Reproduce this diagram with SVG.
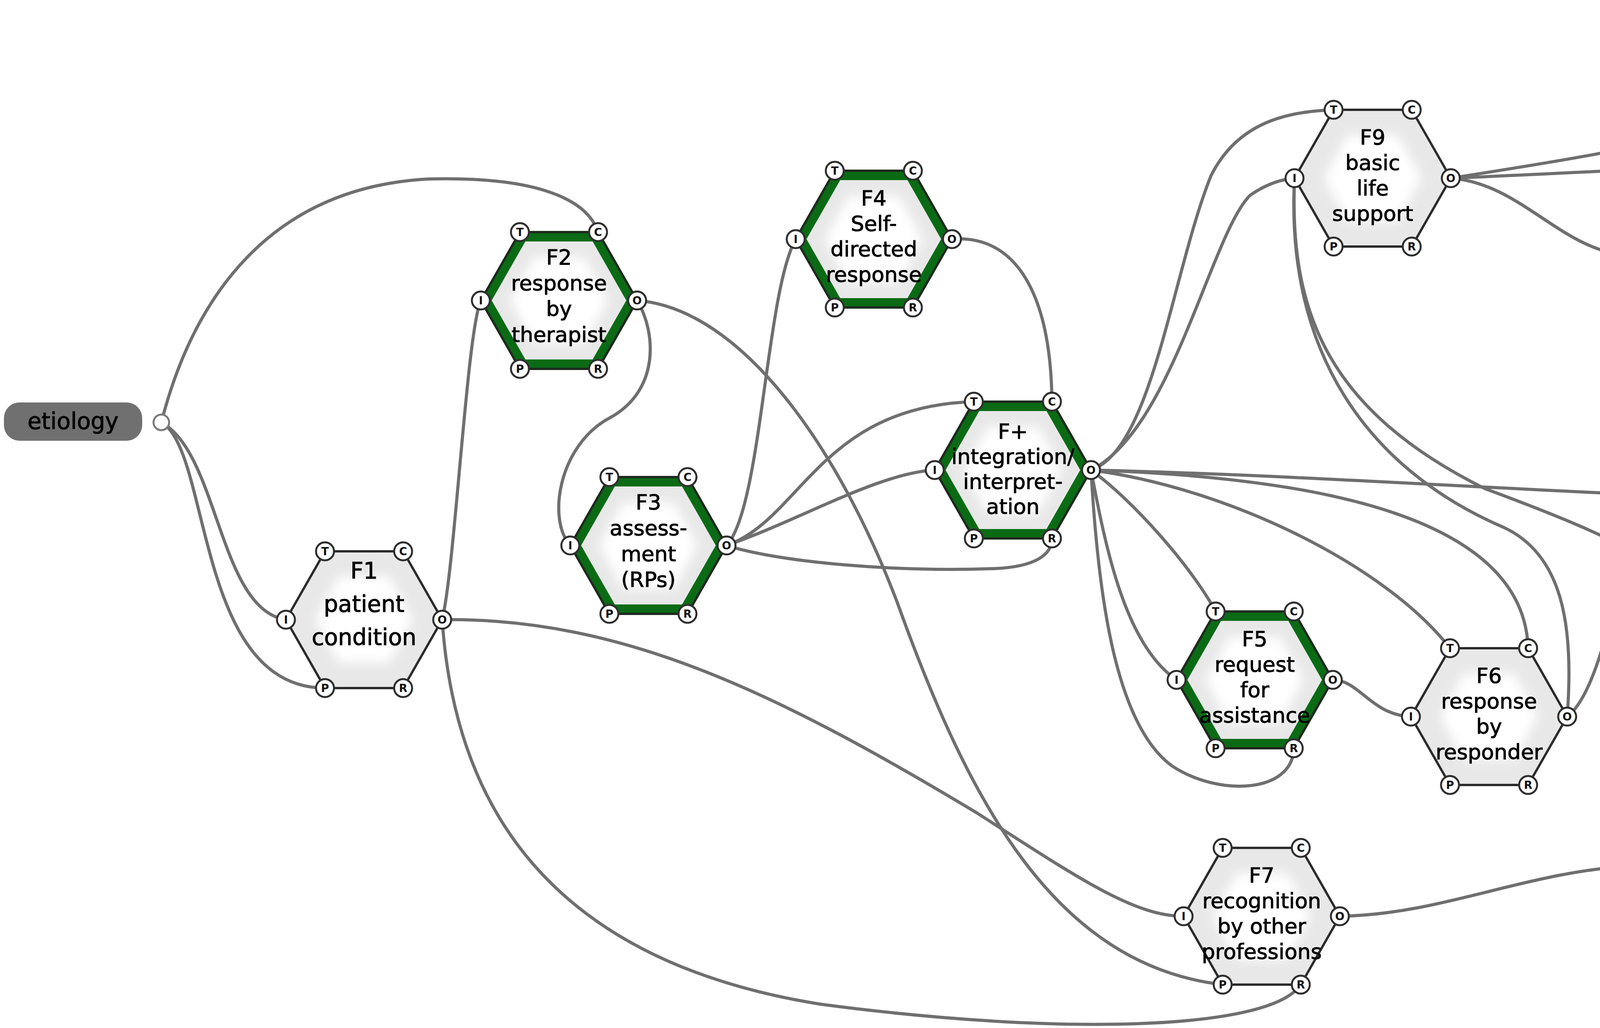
<svg xmlns="http://www.w3.org/2000/svg" xmlns:xlink="http://www.w3.org/1999/xlink" width="5540" height="2631" viewBox="0 0 5540 2631">
<style>
.con{fill:none;stroke:#6f6f6f;stroke-width:8;stroke-linecap:round}
.lbl{font-family:"DejaVu Sans","Liberation Sans",sans-serif;font-size:54px;fill:#000;stroke:#000;stroke-width:1.2;text-anchor:middle}
.big{font-size:58px}
.out{font-family:"DejaVu Sans","Liberation Sans",sans-serif;font-size:58px;fill:#000;stroke:#000;stroke-width:1.2;text-anchor:middle}
.pt{font-family:"DejaVu Sans","Liberation Sans",sans-serif;font-size:28px;font-weight:bold;fill:#111;text-anchor:middle}
.pc{fill:#fff;stroke:#2e2e2e;stroke-width:5}
.oc{fill:#fff;stroke:#7a7a7a;stroke-width:5}
.box{fill:#707070}
</style>
<defs>
<filter id="soft" x="-30%" y="-30%" width="160%" height="160%"><feGaussianBlur stdDeviation="14"/></filter>
<g id="hexN">
<polygon points="-200,0 -100,-175 100,-175 200,0 100,175 -100,175" fill="#e8e8e8"/>
<polygon points="-125,0 -65,-110 65,-110 125,0 65,110 -65,110" fill="#fff" filter="url(#soft)"/>
<polygon points="-200,0 -100,-175 100,-175 200,0 100,175 -100,175" fill="none" stroke="#2b2b2b" stroke-width="6"/>
</g>
<g id="hexG">
<polygon points="-200,0 -100,-175 100,-175 200,0 100,175 -100,175" fill="#e8e8e8"/>
<polygon points="-125,0 -65,-110 65,-110 125,0 65,110 -65,110" fill="#fff" filter="url(#soft)"/>
<polygon points="-185,0 -92.5,-162 92.5,-162 185,0 92.5,162 -92.5,162" fill="none" stroke="#0b6b15" stroke-width="22"/>
<polygon points="-200,0 -100,-175 100,-175 200,0 100,175 -100,175" fill="none" stroke="#1e2a1e" stroke-width="6"/>
</g>
<g id="ports">
<circle class="pc" cx="-100" cy="-175" r="23"/><text class="pt" x="-100" y="-165">T</text>
<circle class="pc" cx="100" cy="-175" r="23"/><text class="pt" x="100" y="-165">C</text>
<circle class="pc" cx="200" cy="0" r="23"/><text class="pt" x="200" y="10">O</text>
<circle class="pc" cx="100" cy="175" r="23"/><text class="pt" x="100" y="185">R</text>
<circle class="pc" cx="-100" cy="175" r="23"/><text class="pt" x="-100" y="185">P</text>
<circle class="pc" cx="-200" cy="0" r="23"/><text class="pt" x="-200" y="10">I</text>
</g>
</defs>
<rect width="5540" height="2631" fill="#fff"/>
<g id="connectors">
<path class="con" d="M413,1081 C480,820 650,480 1100,458 C1350,452 1500,500 1531,594"/>
<path class="con" d="M413,1081 C560,1160 560,1560 732,1586"/>
<path class="con" d="M413,1081 C540,1150 500,1760 832,1761"/>
<path class="con" d="M1231,769 C1195,850 1165,1450 1132,1586"/>
<path class="con" d="M1132,1586 C1600,1580 2000,1780 2500,2080 C2750,2240 2900,2345 3030,2345"/>
<path class="con" d="M1132,1586 C1160,2000 1350,2450 2100,2570 C2700,2650 3250,2640 3330,2520"/>
<path class="con" d="M1631,769 C1680,850 1690,1000 1560,1070 C1430,1140 1400,1330 1460,1396"/>
<path class="con" d="M1631,769 C1900,790 2150,1150 2300,1550 C2480,2050 2700,2470 3130,2520"/>
<path class="con" d="M1860,1396 C1950,1300 1960,750 2037,612"/>
<path class="con" d="M1860,1396 C2050,1330 2100,1040 2493,1028"/>
<path class="con" d="M1860,1396 C2050,1330 2250,1210 2393,1203"/>
<path class="con" d="M1860,1396 C2000,1440 2300,1465 2550,1455 C2650,1450 2693,1420 2693,1378"/>
<path class="con" d="M2437,612 C2600,600 2690,750 2693,1028"/>
<path class="con" d="M2793,1203 C2950,1150 3000,700 3100,450 C3170,310 3300,285 3414,281"/>
<path class="con" d="M2793,1203 C3000,1100 3100,600 3200,500 C3250,465 3290,458 3314,456"/>
<path class="con" d="M2793,1203 C3300,1215 3800,1250 4290,1270"/>
<path class="con" d="M3314,456 C3300,800 3400,1050 3800,1250 C4150,1380 4380,1480 4480,1700 C4580,1860 4610,2050 4592,2215"/>
<path class="con" d="M2793,1203 C3150,1250 3550,1450 3712,1659"/>
<path class="con" d="M2793,1203 C3300,1220 3900,1300 3912,1659"/>
<path class="con" d="M3314,456 C3290,900 3500,1200 3850,1350 C4000,1420 4030,1600 4012,1834"/>
<path class="con" d="M2793,1203 C2900,1280 3050,1450 3112,1565"/>
<path class="con" d="M2793,1203 C2830,1400 2880,1650 3012,1740"/>
<path class="con" d="M2793,1203 C2810,1500 2850,1850 3000,1960 C3120,2040 3310,2030 3312,1915"/>
<path class="con" d="M3412,1740 C3480,1740 3510,1830 3612,1834"/>
<path class="con" d="M4012,1834 C4110,1760 4150,1400 4200,1320 C4230,1280 4260,1272 4290,1270"/>
<path class="con" d="M4290,1270 C4255,1500 4290,1760 4460,1860 C4580,1930 4610,2050 4592,2215"/>
<path class="con" d="M3430,2345 C3700,2340 3900,2230 4192,2215"/>
<path class="con" d="M3714,456 C4200,380 4700,300 4997,62"/>
<path class="con" d="M3714,456 C4100,440 4600,410 5018,403"/>
<path class="con" d="M3714,456 C3900,470 4000,650 4183,655"/>
<path class="con" d="M4583,655 C4750,600 4850,200 4997,62"/>
<path class="con" d="M4583,655 C4750,600 4850,420 5018,403"/>
<path class="con" d="M4583,655 C4750,680 4900,900 5020,926"/>
<path class="con" d="M4183,655 C4140,850 4250,900 4500,960 C4680,1010 4720,1150 4690,1270"/>
<path class="con" d="M4690,1270 C4800,1100 4850,300 4997,62"/>
<path class="con" d="M4690,1270 C4820,1100 4880,500 5018,403"/>
</g>
<g id="etiology">
<rect class="box" x="10" y="1030" width="354" height="98" rx="40"/>
<text class="out" x="187" y="1098">etiology</text>
<circle class="oc" cx="413" cy="1081" r="20"/>
</g>
<g id="death">
<rect class="box" x="5040" y="10" width="362" height="98" rx="38"/>
<text class="out" x="5221" y="79">death</text>
<circle class="oc" cx="4997" cy="62" r="20"/>
</g>
<g id="recovery">
<rect class="box" x="5065" y="355" width="365" height="100" rx="38"/>
<text class="out" x="5247" y="425">recovery</text>
<circle class="oc" cx="5018" cy="403" r="20"/>
</g>
<g id="continuation">
<rect class="box" x="5060" y="834" width="474" height="192" rx="38"/>
<text class="out" x="5297" y="912">continuation</text>
<text class="out" x="5297" y="979">of treatment</text>
<circle class="oc" cx="5020" cy="926" r="20"/>
</g>
<g id="F1" transform="translate(932,1586)">
<use href="#hexN"/><use href="#ports"/>
<text class="lbl big"><tspan x="0" y="-105">F1</tspan><tspan x="0" y="-20">patient</tspan><tspan x="0" y="65">condition</tspan></text>
</g>
<g id="F2" transform="translate(1431,769)">
<use href="#hexG"/><use href="#ports"/>
<text class="lbl"><tspan x="0" y="-92">F2</tspan><tspan x="0" y="-26">response</tspan><tspan x="0" y="40">by</tspan><tspan x="0" y="106">therapist</tspan></text>
</g>
<g id="F3" transform="translate(1660,1396)">
<use href="#hexG"/><use href="#ports"/>
<text class="lbl"><tspan x="0" y="-92">F3</tspan><tspan x="0" y="-26">assess-</tspan><tspan x="0" y="40">ment</tspan><tspan x="0" y="106">(RPs)</tspan></text>
</g>
<g id="F4" transform="translate(2237,612)">
<use href="#hexG"/><use href="#ports"/>
<text class="lbl"><tspan x="0" y="-86">F4</tspan><tspan x="0" y="-21">Self-</tspan><tspan x="0" y="44">directed</tspan><tspan x="0" y="109">response</tspan></text>
</g>
<g id="Fplus" transform="translate(2593,1203)">
<use href="#hexG"/><use href="#ports"/>
<text class="lbl"><tspan x="0" y="-80">F+</tspan><tspan x="0" y="-16">integration/</tspan><tspan x="0" y="48">interpret-</tspan><tspan x="0" y="112">ation</tspan></text>
</g>
<g id="F5" transform="translate(3212,1740)">
<use href="#hexG"/><use href="#ports"/>
<text class="lbl"><tspan x="0" y="-86">F5</tspan><tspan x="0" y="-21">request</tspan><tspan x="0" y="44">for</tspan><tspan x="0" y="109">assistance</tspan></text>
</g>
<g id="F6" transform="translate(3812,1834)">
<use href="#hexN"/><use href="#ports"/>
<text class="lbl"><tspan x="0" y="-86">F6</tspan><tspan x="0" y="-21">response</tspan><tspan x="0" y="44">by</tspan><tspan x="0" y="109">responder</tspan></text>
</g>
<g id="F7" transform="translate(3230,2345)">
<use href="#hexN"/><use href="#ports"/>
<text class="lbl"><tspan x="0" y="-86">F7</tspan><tspan x="0" y="-21">recognition</tspan><tspan x="0" y="44">by other</tspan><tspan x="0" y="109">professions</tspan></text>
</g>
<g id="F8" transform="translate(4392,2215)">
<use href="#hexN"/><use href="#ports"/>
<text class="lbl"><tspan x="0" y="-86">F8</tspan><tspan x="0" y="-21">assessment</tspan><tspan x="0" y="44">(support</tspan><tspan x="0" y="109">team)</tspan></text>
</g>
<g id="F9" transform="translate(3514,456)">
<use href="#hexN"/><use href="#ports"/>
<text class="lbl"><tspan x="0" y="-86">F9</tspan><tspan x="0" y="-21">basic</tspan><tspan x="0" y="44">life</tspan><tspan x="0" y="109">support</tspan></text>
</g>
<g id="F10" transform="translate(4490,1270)">
<use href="#hexN"/><use href="#ports"/>
<text class="lbl"><tspan x="0" y="-86">F10</tspan><tspan x="0" y="-21">further</tspan><tspan x="0" y="44">support/</tspan><tspan x="0" y="109">treatment</tspan></text>
</g>
<g id="F11" transform="translate(4383,655)">
<use href="#hexN"/><use href="#ports"/>
<text class="lbl"><tspan x="0" y="-86">F11</tspan><tspan x="0" y="-21">advanced</tspan><tspan x="0" y="44">life</tspan><tspan x="0" y="109">support</tspan></text>
</g>
</svg>
